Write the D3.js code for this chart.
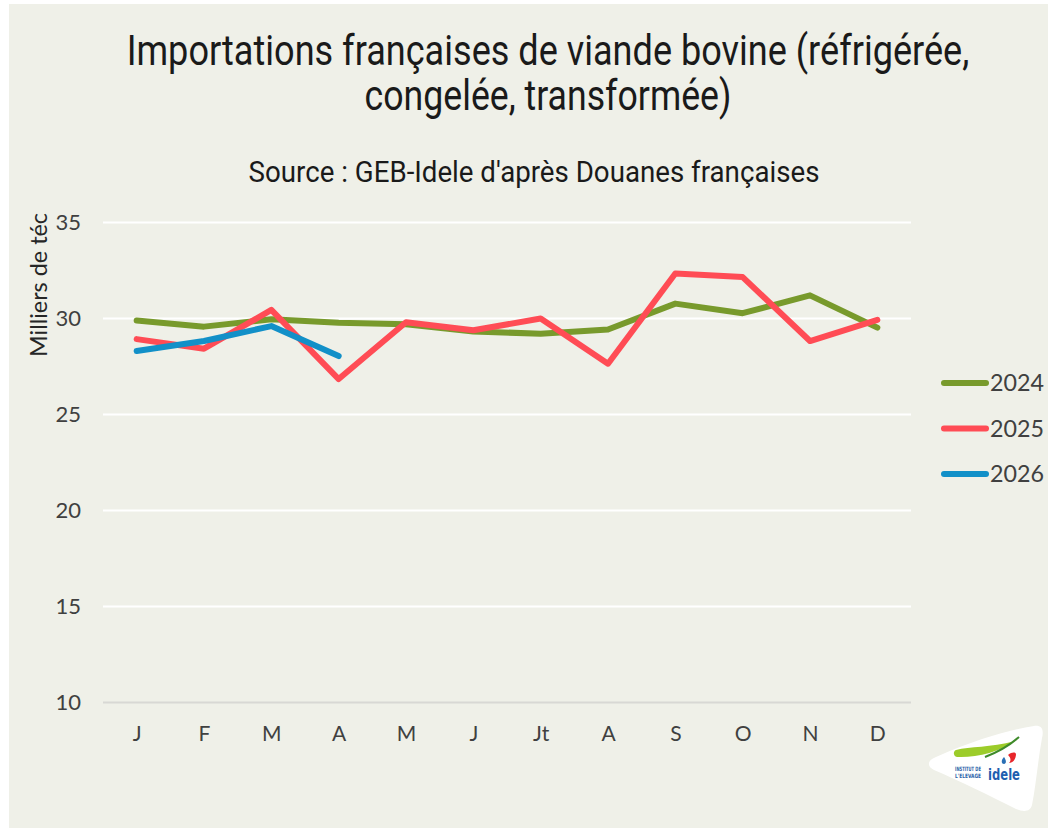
<!DOCTYPE html>
<html>
<head>
<meta charset="utf-8">
<script src="https://cdn.jsdelivr.net/npm/d3@7"></script>
<style>
  html, body { margin: 0; padding: 0; background: #ffffff; }
  svg { display: block; }
</style>
</head>
<body>
<svg id="chart" width="1048" height="828"></svg>
<script>
// Monthly French beef imports (thousand tonnes carcass equivalent)
const months = ["J", "F", "M", "A", "M", "J", "Jt", "A", "S", "O", "N", "D"];
const years = ["2024", "2025", "2026"];
const values2024 = [29.87, 29.55, 29.93, 29.75, 29.68, 29.3, 29.18, 29.4, 30.75, 30.25, 31.18, 29.5];
const values2025 = [28.9, 28.4, 30.42, 26.82, 29.78, 29.36, 29.97, 27.62, 32.32, 32.13, 28.8, 29.9];
const values2026 = [28.28, 28.8, 29.58, 28.02];
const yTicks = [10, 15, 20, 25, 30, 35];
const seriesColors = ["#789a2c", "#ff4c55", "#1290c8"];

const svg = d3.select("#chart");
const W = 1048, H = 828;

// page background panel
svg.append("rect").attr("x", 0).attr("y", 0).attr("width", W).attr("height", H).attr("fill", "#ffffff");
svg.append("rect").attr("x", 9).attr("y", 4).attr("width", W - 9).attr("height", H - 4).attr("fill", "#eff0e8");

const x = d3.scalePoint().domain(d3.range(months.length)).range([103, 911]).padding(0.5);
const y = d3.scaleLinear().domain([10, 35]).range([702, 222]);

// horizontally condensed text, centred on cx and squeezed to a given width
function condensedText(parent, str, cx, baseline, width, size, family, fill, weight) {
  const g = parent.append("g");
  const t = g.append("text").attr("x", 0).attr("y", 0).attr("text-anchor", "middle")
    .attr("font-family", family).attr("font-size", size).attr("fill", fill)
    .attr("font-weight", weight || "normal").text(str);
  const natural = t.node().getComputedTextLength();
  const k = Math.min(1, width / natural);
  g.attr("transform", `translate(${cx},${baseline}) scale(${k},1)`);
  return g;
}

// title
const titleFont = "Roboto, 'Open Sans', sans-serif";
condensedText(svg, "Importations françaises de viande bovine (réfrigérée,", 548, 65, 843, 42, titleFont, "#1a1a1a");
condensedText(svg, "congelée, transformée)", 548, 110, 367, 42, titleFont, "#1a1a1a");
condensedText(svg, "Source : GEB-Idele d'après Douanes françaises", 534, 182, 571, 29, titleFont, "#1a1a1a");

// gridlines
const labelFont = "Lato, 'Open Sans', sans-serif";
const yAxis = svg.append("g").attr("transform", "translate(103,0)")
  .call(d3.axisLeft(y).tickValues(yTicks).tickSize(-808).tickFormat(d3.format("d")).tickPadding(22));
yAxis.select(".domain").remove();
yAxis.selectAll(".tick line")
  .attr("stroke", d => d === 10 ? "#d8d8d4" : "#ffffff")
  .attr("stroke-width", 2);
yAxis.selectAll(".tick text")
  .attr("font-family", labelFont).attr("font-size", 22).attr("fill", "#404040")
  .attr("dy", "0.36em");

// x axis labels
const xAxis = svg.append("g").attr("transform", "translate(0,702)")
  .call(d3.axisBottom(x).tickSize(0).tickPadding(24).tickFormat(i => months[i]));
xAxis.select(".domain").remove();
xAxis.selectAll(".tick text")
  .attr("font-family", labelFont).attr("font-size", 21).attr("fill", "#404040");

// y axis title
svg.append("text").attr("transform", "translate(47,285) rotate(-90)")
  .attr("text-anchor", "middle").attr("font-family", labelFont).attr("font-size", 23)
  .attr("fill", "#262626")
  .attr("textLength", 144).attr("lengthAdjust", "spacingAndGlyphs")
  .text("Milliers de téc");

// series lines
const line = d3.line().x((d, i) => x(i)).y(d => y(d));
const seriesData = [values2024, values2025, values2026];
svg.append("g").selectAll("path").data(seriesData).join("path")
  .attr("d", line)
  .attr("fill", "none")
  .attr("stroke", (d, i) => seriesColors[i])
  .attr("stroke-width", 6)
  .attr("stroke-linejoin", "round")
  .attr("stroke-linecap", "round");

// legend
const legend = svg.append("g").selectAll("g").data(years).join("g")
  .attr("transform", (d, i) => `translate(0,${383 + i * 45.5})`);
legend.append("line").attr("x1", 944).attr("x2", 986).attr("y1", 0).attr("y2", 0)
  .attr("stroke", (d, i) => seriesColors[i]).attr("stroke-width", 6).attr("stroke-linecap", "round");
legend.append("text").attr("x", 990).attr("y", 0).attr("dy", "0.36em")
  .attr("font-family", labelFont).attr("font-size", 23).attr("fill", "#404040")
  .attr("textLength", 54).attr("lengthAdjust", "spacingAndGlyphs")
  .text(d => d);

// institute logo
const logo = svg.append("g");
logo.append("path")
  .attr("d", "M936,757 C980,738 1010,730 1034,726 C1042,725 1044,730 1042,738 C1038,760 1036,785 1032,805 C1030,812 1024,812 1016,809 C990,796 960,781 934,770 C926,766 928,760 936,757 Z")
  .attr("fill", "#ffffff");
logo.append("path")
  .attr("d", "M956,750 C970,746 990,748 1015,741 C1000,752 975,758 957,757 C953,756 953,751 956,750 Z")
  .attr("fill", "#9ccc2a");
logo.append("path")
  .attr("d", "M985,757 C998,752 1010,745 1019,737")
  .attr("fill", "none").attr("stroke", "#3e8a2a").attr("stroke-width", 2);
logo.append("path")
  .attr("d", "M1008,755 C1012,752 1015,752 1016,754 C1016,759 1013,763 1009,763 C1012,760 1010,757 1008,755 Z")
  .attr("fill", "#e8262b");
logo.append("path")
  .attr("d", "M1004,757 C1006,760 1007,763 1004,764 C1001,764 1001,760 1004,757 Z")
  .attr("fill", "#2a6fb5");
condensedText(logo, "INSTITUT DE", 968, 771, 26, 6, "'DejaVu Sans Condensed', sans-serif", "#2a5fa8", "bold");
condensedText(logo, "L'ELEVAGE", 968, 778, 26, 6, "'DejaVu Sans Condensed', sans-serif", "#2a5fa8", "bold");
condensedText(logo, "idele", 1004, 780, 32, 16, "'DejaVu Sans', sans-serif", "#1f5fb0", "bold");
</script>
</body>
</html>
